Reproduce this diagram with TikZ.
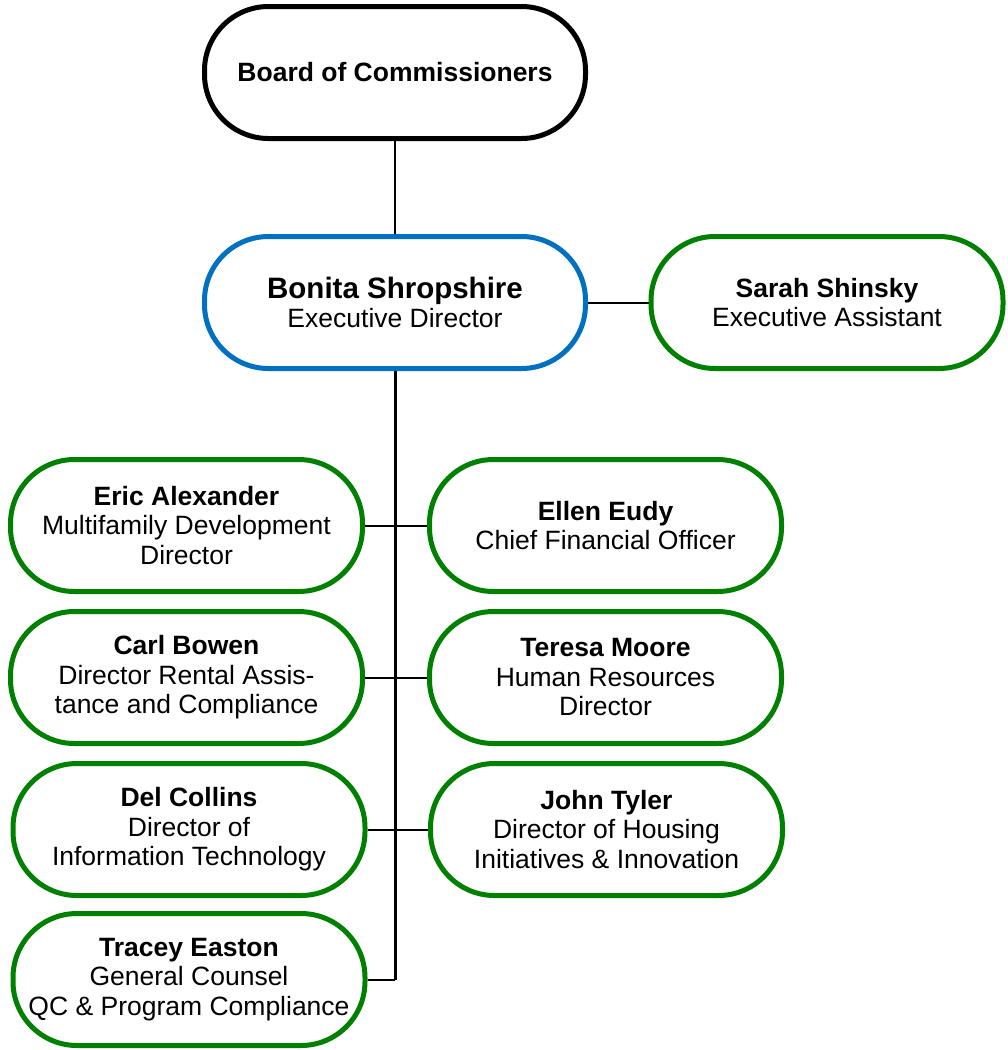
\documentclass[tikz,border=0pt]{standalone}
\usepackage{fontspec}
\setmainfont{Liberation Sans}
\usetikzlibrary{positioning}
\definecolor{boxgreen}{RGB}{0,128,0}
\definecolor{boxblue}{RGB}{0,112,192}

\begin{document}
\begin{tikzpicture}[x=1pt, y=-1pt,
    pill/.style={draw, line width=5pt, rounded corners=64pt, fill=white,
      minimum height=132pt, inner sep=0pt, align=center,
      font=\fontsize{26.5}{29.5}\selectfont},
    boardbox/.style={pill, draw=black, minimum width=381pt},
    headbox/.style={pill, draw=boxblue, minimum width=381pt},
    staffbox/.style={pill, draw=boxgreen, minimum width=352pt},
    link/.style={line width=2pt}]
	  \useasboundingbox (0,0) rectangle (1008,1050);

	  \node[boardbox] (board) at (395,72.5) {\textbf{Board of Commissioners}};
	  \node[headbox] (bonita) at (395,302.5) {{\fontsize{29.5}{31}\selectfont\textbf{Bonita Shropshire}}\\Executive Director};
	  \node[staffbox] (sarah) at (827,302.5) {\textbf{Sarah Shinsky}\\Executive Assistant};

	  \node[staffbox] (eric) at (186.5,525.5) {\textbf{Eric Alexander}\\Multifamily Development\\Director};
	  \node[staffbox] (ellen) at (605.5,525.5) {\textbf{Ellen Eudy}\\Chief Financial Officer};
	  \node[staffbox] (carl) at (186.5,677.5) {\textbf{Carl Bowen}\\Director Rental Assis-\\tance and Compliance};
	  \node[staffbox] (teresa) at (605.5,677.5) {\textbf{Teresa Moore}\\Human Resources\\Director};
	  \node[staffbox] (del) at (189,829.5) {\textbf{Del Collins}\\Director of\\Information Technology};
	  \node[staffbox] (john) at (606.5,829.5) {\textbf{John Tyler}\\Director of Housing\\Initiatives \& Innovation};
	  \node[staffbox] (tracey) at (189,979.5) {\textbf{Tracey Easton}\\General Counsel\\QC \& Program Compliance};

	  \draw[link] (board) -- (bonita);
	  \draw[link] (bonita) -- (sarah);
	  \coordinate (trunkend) at (bonita.south |- tracey.east);
	  \draw[line width=3pt] (bonita.south) -- (trunkend);
	  \draw[link] (trunkend) -- (tracey.east);
	  \foreach \a/\b in {eric/ellen, carl/teresa, del/john}
	    \draw[link] (\a.east) -- (\b.west);
\end{tikzpicture}
\end{document}
